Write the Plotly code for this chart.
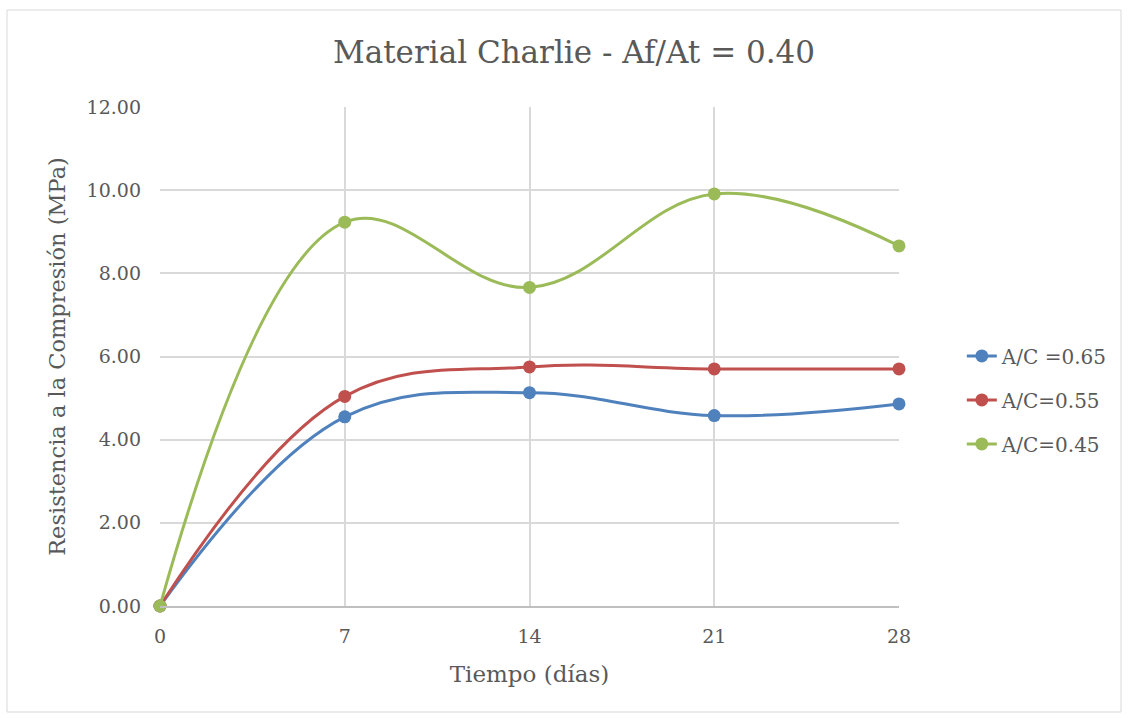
import plotly.graph_objects as go

# Días de curado y resistencia a la compresión (MPa) por relación A/C
dias = [0, 7, 14, 21, 28]
ac_065 = [0.00, 4.55, 5.13, 4.58, 4.86]
ac_055 = [0.00, 5.04, 5.75, 5.70, 5.70]
ac_045 = [0.00, 9.23, 7.66, 9.91, 8.66]

series = [
    ("A/C =0.65", ac_065, "#4f81bd"),
    ("A/C=0.55", ac_055, "#c0504d"),
    ("A/C=0.45", ac_045, "#9bbb59"),
]

FONT = "DejaVu Serif"
GREY = "#595959"

fig = go.Figure()
for i, (name, vals, color) in enumerate(series):
    fig.add_trace(go.Scatter(
        x=dias, y=vals, name=name, mode="lines+markers",
        line=dict(color=color, width=3, shape="spline", smoothing=1.1),
        marker=dict(color=color, size=13),
        cliponaxis=False, legendgroup=f"g{i}",
    ))

fig.update_layout(
    width=1131, height=718,
    margin=dict(l=160, r=232, t=107, b=112),
    paper_bgcolor="white", plot_bgcolor="white",
    font=dict(family=FONT, color=GREY, size=18),
    title=dict(text="Material Charlie - Af/At = 0.40", x=0.5075, xanchor="center",
               y=0.927, yanchor="middle", font=dict(size=31, color=GREY, family=FONT)),
    legend=dict(x=1.085, xanchor="left", y=0.413, yanchor="middle",
                font=dict(size=20, color=GREY, family=FONT),
                tracegroupgap=15, traceorder="grouped"),
    showlegend=True,
)
fig.update_xaxes(
    range=[0, 28], tickvals=dias, ticktext=[str(d) for d in dias],
    showgrid=True, gridcolor="#d9d9d9", gridwidth=1.5,
    showline=True, linecolor="#bfbfbf", linewidth=1.5,
    zeroline=False, ticks="", ticklen=0, ticklabelstandoff=12,
    tickfont=dict(size=19, color=GREY),
    title=dict(text="Tiempo (días)", font=dict(size=23, color=GREY), standoff=20),
)
fig.update_yaxes(
    range=[0, 12], dtick=2, tickformat=".2f",
    showgrid=True, gridcolor="#d9d9d9", gridwidth=1.5,
    showline=False, zeroline=False, ticks="", ticklabelstandoff=18,
    tickfont=dict(size=19, color=GREY),
    title=dict(text="Resistencia a la Compresión (MPa)", font=dict(size=22.5, color=GREY), standoff=14),
)

# Borde del área del gráfico
fig.add_shape(type="rect", xref="paper", yref="paper",
              x0=(7 - 160) / 739, x1=(1121 - 160) / 739,
              y0=(606 - 712) / 499, y1=(606 - 10) / 499,
              line=dict(color="#d9d9d9", width=1), layer="below")

fig.write_html("out.html")
